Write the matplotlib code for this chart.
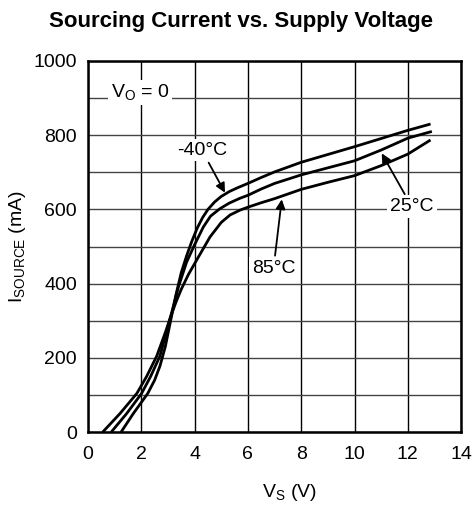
import matplotlib
matplotlib.use("Agg")
import matplotlib.pyplot as plt
from matplotlib.ticker import MultipleLocator

plt.rcParams['font.family'] = ['Liberation Sans', 'DejaVu Sans']

# curves (V_S in V, I_SOURCE in mA)
v_m40 = [1.24, 1.7, 2.24, 2.5, 2.7, 2.9, 3.1, 3.3, 3.5, 3.7, 3.9, 4.1, 4.3, 4.5, 4.75, 5.0, 5.3, 5.6, 6.0, 6.5, 7.0, 8.0, 9.0, 10.0, 11.0, 12.0, 12.85]
i_m40 = [0, 50, 104, 140, 178, 230, 300, 370, 430, 475, 515, 550, 578, 600, 620, 635, 648, 658, 670, 686, 701, 727, 748, 769, 791, 813, 830]

v_25 = [0.87, 1.45, 2.01, 2.35, 2.7, 3.1, 3.4, 3.7, 4.0, 4.33, 4.6, 4.95, 5.3, 5.7, 6.0, 6.5, 7.0, 8.0, 9.0, 10.0, 11.0, 12.0, 12.9]
i_25 = [0, 50, 104, 150, 205, 311, 393, 458, 505, 553, 582, 602, 617, 630, 638, 655, 670, 693, 712, 731, 760, 792, 810]

v_85 = [0.55, 1.2, 1.83, 2.2, 2.58, 2.9, 3.1, 3.3, 3.5, 3.77, 4.08, 4.58, 5.0, 5.33, 5.7, 6.0, 6.5, 7.0, 8.0, 9.0, 10.0, 11.0, 12.0, 12.85]
i_85 = [0, 50, 104, 150, 205, 268, 311, 350, 385, 425, 464, 526, 565, 585, 598, 606, 618, 629, 654, 673, 691, 718, 749, 787]

fig = plt.figure(figsize=(4.73, 5.12), dpi=100)
ax = fig.add_axes([0.186, 0.156, 0.789, 0.725])

for v, i in [(v_m40, i_m40), (v_25, i_25), (v_85, i_85)]:
    ax.plot(v, i, color='black', lw=2.0, solid_capstyle='butt', solid_joinstyle='round', zorder=3)

ax.set_xlim(0, 14)
ax.set_ylim(0, 1000)
ax.xaxis.set_major_locator(MultipleLocator(2))
ax.yaxis.set_major_locator(MultipleLocator(200))
ax.yaxis.set_minor_locator(MultipleLocator(100))
ax.grid(True, which='major', axis='x', color='black', lw=1.0)
ax.grid(True, which='both', axis='y', color='#444444', lw=1.0)
ax.tick_params(which='both', length=0, labelsize=14, pad=8)
ax.tick_params(axis='x', pad=10)
for s in ax.spines.values():
    s.set_linewidth(1.8)

fig.text(0.51, 0.958, 'Sourcing Current vs. Supply Voltage', fontsize=16, fontweight='bold',
         ha='center', va='center')
ax.set_xlabel(r'$\mathregular{V_S}$ (V)', fontsize=14, labelpad=14)
ax.xaxis.label.set_x(0.54)
ax.set_ylabel(r'$\mathregular{I_{SOURCE}}$ (mA)', fontsize=14, labelpad=4)

box = dict(boxstyle='square,pad=0.15', fc='white', ec='none')
ax.text(1.95, 915, r'$\mathregular{V_O}$ = 0', fontsize=14, ha='center', va='center', bbox=box, zorder=4)

arrow = dict(arrowstyle='-|>', color='black', lw=1.3, mutation_scale=14, shrinkA=1, shrinkB=0)
ax.annotate('-40°C', xy=(5.14, 645), xytext=(4.27, 760), fontsize=14, ha='center', va='center',
            bbox=box, arrowprops=arrow, zorder=4)
ax.annotate('25°C', xy=(11.02, 751), xytext=(12.15, 607), fontsize=14, ha='center', va='center',
            bbox=box, arrowprops=arrow, zorder=4)
ax.annotate('85°C', xy=(7.27, 627), xytext=(6.96, 441), fontsize=14, ha='center', va='center',
            bbox=box, arrowprops=arrow, zorder=4)

fig.savefig('out.png', dpi=100)
